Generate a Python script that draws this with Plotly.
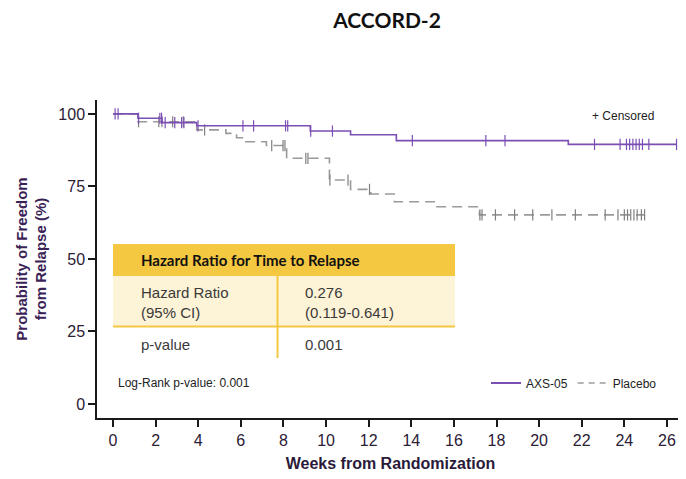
import plotly.graph_objects as go
import numpy as np

# ---- data ----
axs_times = [0, 1.17, 2.3, 3.93, 9.26, 11.15, 13.3, 21.37, 26.45]
axs_surv = [100, 98.5, 97.0, 95.9, 94.1, 92.8, 90.8, 89.5, 89.5]
axs_censor = [0.1, 0.24, 1.2, 2.2, 2.28, 2.45, 2.9, 3.22, 3.33, 3.99, 6.1, 6.6,
              8.1, 8.2, 9.28, 10.3, 14.05, 17.5, 18.4, 22.6, 23.8, 24.1, 24.25,
              24.4, 24.55, 24.7, 24.85, 25.15, 26.45]

pbo_times = [0, 1.17, 3.93, 5.3, 5.8, 6.2, 7.2, 8.15, 10.16, 11.15, 12.1, 13.2,
             15.16, 17.2, 24.95]
pbo_surv = [100, 97.3, 94.5, 93.3, 91.8, 90.4, 89.1, 84.7, 77.2, 74.0, 72.4,
            69.7, 68.0, 65.2, 65.2]
pbo_censor = [1.2, 2.15, 2.3, 2.8, 3.3, 4.3, 7.45, 7.98, 8.07, 9.05, 9.15, 10.18,
              11.03, 12.04, 17.22, 17.32, 17.95, 18.85, 19.7, 20.6, 21.7, 23.1,
              23.7, 24.0, 24.15, 24.3, 24.45, 24.6, 24.8, 24.95]

x_ticks = list(range(0, 27, 2))
y_ticks = [0, 25, 50, 75, 100]


def step_at(times, surv, t):
    idx = np.searchsorted(np.array(times), t, side="right") - 1
    return surv[max(idx, 0)]


PURPLE = "#7b4fb3"
GRAY = "#9a9a9a"
YELLOW = "#f5c842"
CREAM = "#fdf3d6"

fig = go.Figure()

# placebo first (purple drawn on top)
fig.add_trace(go.Scatter(x=pbo_times, y=pbo_surv, mode="lines", line_shape="hv",
                         line=dict(color=GRAY, width=1.6, dash="10px,6px"),
                         name="Placebo", showlegend=False))
fig.add_trace(go.Scatter(x=pbo_censor,
                         y=[step_at(pbo_times, pbo_surv, t) for t in pbo_censor],
                         mode="markers", showlegend=False,
                         marker=dict(symbol="line-ns", size=8,
                                     line=dict(color="#7f7f7f", width=1.2))))
fig.add_trace(go.Scatter(x=axs_times, y=axs_surv, mode="lines", line_shape="hv",
                         line=dict(color=PURPLE, width=1.6),
                         name="AXS-05", showlegend=False))
fig.add_trace(go.Scatter(x=axs_censor,
                         y=[step_at(axs_times, axs_surv, t) for t in axs_censor],
                         mode="markers", showlegend=False,
                         marker=dict(symbol="line-ns", size=8,
                                     line=dict(color=PURPLE, width=1.2))))
# legend entries
fig.add_trace(go.Scatter(x=[None], y=[None], mode="lines", name="AXS-05",
                         line=dict(color=PURPLE, width=2)))
fig.add_trace(go.Scatter(x=[None], y=[None], mode="lines", name="Placebo",
                         line=dict(color="#b5b5b5", width=2, dash="6px,5px")))

# The page body has an 8px default margin; size the figure so that the
# picture lines up with the 686x479 window.
OFF = 8
W, H = 686 - OFF, 479 - OFF
# plot-area edges in window pixels
L, R, T, B = 97, 684, 100, 418


def px(x):
    return (x - L) / (R - L)


def py(y):
    return (B - y) / (B - T)


shapes = [
    dict(type="rect", xref="paper", yref="paper", x0=px(113), x1=px(455),
         y0=py(276), y1=py(244), fillcolor=YELLOW, line=dict(width=0), layer="below"),
    dict(type="rect", xref="paper", yref="paper", x0=px(113), x1=px(455),
         y0=py(326), y1=py(276), fillcolor=CREAM, line=dict(width=0), layer="below"),
    dict(type="line", xref="paper", yref="paper", x0=px(113), x1=px(455),
         y0=py(326.5), y1=py(326.5), line=dict(color=YELLOW, width=2)),
    dict(type="line", xref="paper", yref="paper", x0=px(277.5), x1=px(277.5),
         y0=py(276), y1=py(358), line=dict(color=YELLOW, width=2)),
]

body_font = dict(family="Liberation Sans, Arial, sans-serif", size=15, color="#3a3a3a")
annotations = [
    dict(text="<b>Hazard Ratio for Time to Relapse</b>", xref="paper", yref="paper",
         x=px(139), y=py(260), xanchor="left", yanchor="middle", showarrow=False,
         font=dict(family="Lato, sans-serif", size=15, color="#111111")),
    dict(text="Hazard Ratio<br>(95% CI)", xref="paper", yref="paper",
         x=px(139), y=py(302), xanchor="left", yanchor="middle", showarrow=False,
         align="left", font=body_font),
    dict(text="0.276<br>(0.119-0.641)", xref="paper", yref="paper",
         x=px(303), y=py(302), xanchor="left", yanchor="middle", showarrow=False,
         align="left", font=body_font),
    dict(text="p-value", xref="paper", yref="paper",
         x=px(139), y=py(344), xanchor="left", yanchor="middle", showarrow=False,
         font=body_font),
    dict(text="0.001", xref="paper", yref="paper",
         x=px(303), y=py(344), xanchor="left", yanchor="middle", showarrow=False,
         font=body_font),
    dict(text="Log-Rank p-value: 0.001", xref="paper", yref="paper",
         x=px(116), y=py(383), xanchor="left", yanchor="middle", showarrow=False,
         font=dict(family="Liberation Sans, Arial, sans-serif", size=12, color="#222222")),
    dict(text="+ Censored", xref="paper", yref="paper",
         x=px(590), y=py(116), xanchor="left", yanchor="middle", showarrow=False,
         font=dict(family="Liberation Sans, Arial, sans-serif", size=12, color="#222222")),
]

fig.update_layout(
    width=W, height=H,
    margin=dict(l=L - OFF, r=W - (R - OFF), t=T - OFF, b=H - (B - OFF), autoexpand=False),
    paper_bgcolor="white", plot_bgcolor="white",
    title=dict(text="<b>ACCORD-2</b>", x=(343 - OFF) / W, xref="paper", xanchor="center",
               y=1 - (21 - OFF) / H, yanchor="middle",
               font=dict(family="Lato, sans-serif", size=21, color="#111111")),
    shapes=shapes, annotations=annotations,
    showlegend=True,
    legend=dict(orientation="h", x=px(662), xanchor="right", y=py(383),
                yanchor="middle", bgcolor="rgba(0,0,0,0)",
                font=dict(family="Liberation Sans, Arial, sans-serif", size=12,
                          color="#222222"),
                itemwidth=30),
)

tick_font = dict(family="Liberation Sans, Arial, sans-serif", size=16, color="#2b2035")
fig.update_xaxes(range=[-0.75, 26.8], tickvals=x_ticks, ticktext=[str(v) for v in x_ticks],
                 automargin=False,
                 showgrid=False, zeroline=False, showline=True, linecolor="#1a1a1a",
                 linewidth=1.5, ticks="outside", ticklen=7, tickwidth=1.5,
                 tickcolor="#1a1a1a", tickfont=tick_font,
                 title=dict(text="<b>Weeks from Randomization</b>", standoff=10,
                            font=dict(family="Liberation Sans, Arial, sans-serif",
                                      size=16, color="#2a1a3a")))
fig.update_yaxes(range=[-4.83, 104.8], tickvals=y_ticks, ticktext=[str(v) for v in y_ticks],
                 automargin=False,
                 showgrid=False, zeroline=False, showline=True, linecolor="#1a1a1a",
                 linewidth=1.5, ticks="outside", ticklen=7, tickwidth=1.5,
                 tickcolor="#1a1a1a", tickfont=tick_font,
                 title=dict(text="<b>Probability of Freedom<br>from Relapse (%)</b>",
                            standoff=8,
                            font=dict(family="Liberation Sans, Arial, sans-serif",
                                      size=15, color="#3b2256")))

fig.write_html("out.html")
